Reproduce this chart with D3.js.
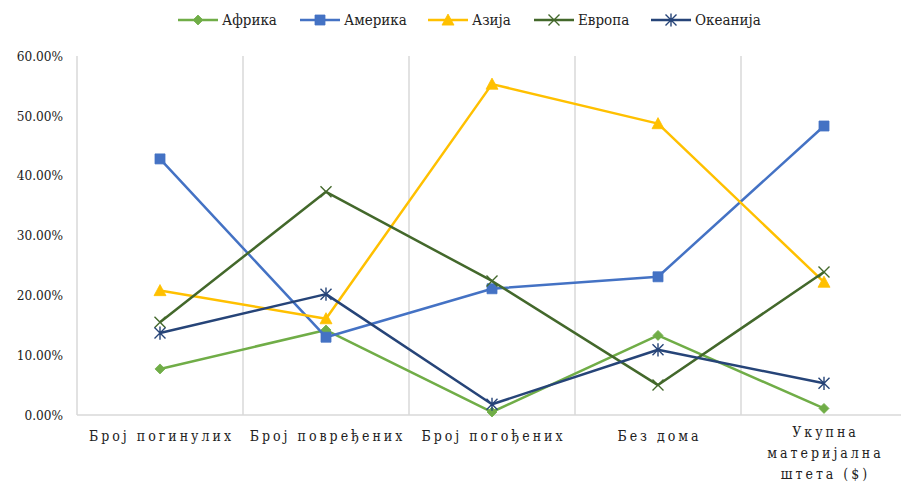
<!DOCTYPE html>
<html><head><meta charset="utf-8">
<script src="https://cdn.jsdelivr.net/npm/d3@7"></script>
<style>body{margin:0;background:#fff;} svg{display:block;} svg text{font-family:"DejaVu Serif Condensed","DejaVu Serif",serif !important; font-stretch:condensed;}</style>
</head><body>
<svg id="chart" width="901" height="483"></svg>
<script>
const categories = ["Број погинулих","Број повређених","Број погођених","Без дома","Укупна материјална штета ($)"];
const seriesNames = ["Африка","Америка","Азија","Европа","Океанија"];
const africa  = [0.077, 0.142, 0.005, 0.133, 0.011];
const america = [0.428, 0.130, 0.211, 0.231, 0.483];
const asia    = [0.208, 0.161, 0.553, 0.487, 0.222];
const europe  = [0.155, 0.373, 0.224, 0.050, 0.239];
const oceania = [0.137, 0.202, 0.018, 0.109, 0.053];
const yTicks = [0, 0.1, 0.2, 0.3, 0.4, 0.5, 0.6];

const colors = ["#70AD47","#4472C4","#FFC000","#43682B","#264478"];
const markers = ["diamond","square","triangle","x","star"];
const series = [africa, america, asia, europe, oceania].map((v,i)=>({name:seriesNames[i], values:v, color:colors[i], marker:markers[i]}));

const svg = d3.select("#chart");
const pLeft = 77, pRight = 907, pTop = 56, pBottom = 415;
const x = d3.scaleBand().domain(categories).range([pLeft, pRight]).paddingInner(0).paddingOuter(0);
const y = d3.scaleLinear().domain([0, 0.6]).range([pBottom, pTop]);

const bounds = categories.map(c => x(c));
svg.append("g").selectAll("line").data(bounds).join("line")
  .attr("x1", d=>d).attr("x2", d=>d).attr("y1", pTop).attr("y2", pBottom)
  .attr("stroke", "#D9D9D9").attr("stroke-width", 1.5);
svg.append("line").attr("x1", pLeft).attr("x2", 901).attr("y1", pBottom).attr("y2", pBottom)
  .attr("stroke", "#D9D9D9").attr("stroke-width", 1.5);

const yAxis = svg.append("g").attr("transform", `translate(${pLeft},0)`)
  .call(d3.axisLeft(y).tickValues(yTicks).tickFormat(d3.format(".2%")).tickSize(0).tickPadding(14));
yAxis.select(".domain").remove();
yAxis.selectAll("text").attr("font-size", 13.5).attr("fill", "#222");

const xl = svg.append("g");
categories.forEach(c => {
  const words = c.split(" ");
  const lines = [];
  let cur = "";
  const maxChars = 15;
  words.forEach(w => {
    const t = cur ? cur + " " + w : w;
    if (t.length > maxChars && cur) { lines.push(cur); cur = w; } else cur = t;
  });
  if (cur) lines.push(cur);
  const cx = x(c) + x.bandwidth()/2;
  const t = xl.append("text").attr("text-anchor", "middle").attr("font-size", 14)
    .attr("letter-spacing", "3px").attr("fill", "#222");
  const y0 = lines.length > 1 ? 437 : 441;
  lines.forEach((ln, i) => {
    t.append("tspan").attr("x", cx + 1.5).attr("y", y0 + i*21).text(ln);
  });
});

function markerPath(type, s) {
  const h = s/2;
  switch(type) {
    case "diamond": return `M0,${-h}L${h},0L0,${h}L${-h},0Z`;
    case "square": return `M${-h},${-h}H${h}V${h}H${-h}Z`;
    case "triangle": return `M0,${-h}L${h},${h*0.85}L${-h},${h*0.85}Z`;
    case "x": return `M${-h},${-h}L${h},${h}M${-h},${h}L${h},${-h}`;
    case "star": return `M${-h},${-h}L${h},${h}M${-h},${h}L${h},${-h}M0,${-h*1.2}V${h*1.2}`;
  }
}
function drawMarker(g, type, color, cx, cy) {
  const size = {diamond:10, square:10, triangle:12, x:11, star:11}[type];
  const p = g.append("path").attr("d", markerPath(type, size)).attr("transform", `translate(${cx},${cy})`);
  if (type === "x" || type === "star") p.attr("fill","none").attr("stroke", color).attr("stroke-width", 1.4);
  else p.attr("fill", color).attr("stroke", color).attr("stroke-width", 0.8);
}

const line = d3.line().x((d,i)=>x(categories[i]) + x.bandwidth()/2).y(d=>y(d));
series.forEach(s => {
  const g = svg.append("g");
  g.append("path").datum(s.values).attr("d", line).attr("fill","none")
    .attr("stroke", s.color).attr("stroke-width", 2.5).attr("stroke-linejoin","round");
  s.values.forEach((v,i) => drawMarker(g, s.marker, s.color, x(categories[i]) + x.bandwidth()/2, y(v)));
});

const legendX = [178, 300, 428, 534, 651];
const lg = svg.append("g");
series.forEach((s,i) => {
  const g = lg.append("g").attr("transform", `translate(${legendX[i]},20)`);
  g.append("line").attr("x1",0).attr("x2",40).attr("y1",0).attr("y2",0).attr("stroke", s.color).attr("stroke-width", 2.5);
  drawMarker(g, s.marker, s.color, 20, 0);
  g.append("text").attr("x", 44).attr("y", 5).attr("font-size", 15).attr("fill", "#222").text(s.name);
});
</script>
</body></html>
